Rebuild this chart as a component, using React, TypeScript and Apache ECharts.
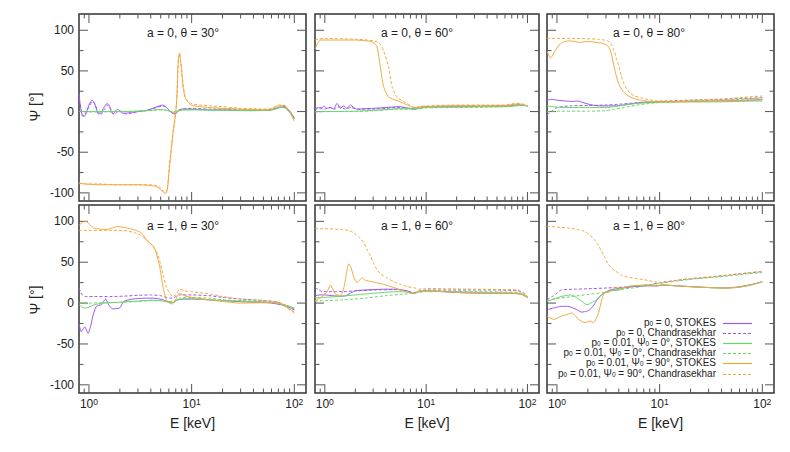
import React, { useEffect, useRef } from "react";
import * as echarts from "echarts";

// ---------- axis values ----------
const X_MIN = 0.8;
const X_MAX = 130;
const Y_MIN = -110;
const Y_MAX = 120;
const X_MAJOR = [1, 10, 100];
const X_MINOR = [0.9, 2, 3, 4, 5, 6, 7, 8, 9, 20, 30, 40, 50, 60, 70, 80, 90];
const Y_MAJOR = [-100, -50, 0, 50, 100];
const Y_MINOR = [-75, -25, 25, 75];

const PANEL_TITLES = [
  "a = 0, θ = 30°",
  "a = 0, θ = 60°",
  "a = 0, θ = 80°",
  "a = 1, θ = 30°",
  "a = 1, θ = 60°",
  "a = 1, θ = 80°",
];

const SERIES_NAMES = [
  "p0 = 0, STOKES",
  "p0 = 0, Chandrasekhar",
  "p0 = 0.01, Ψ0 = 0°, STOKES",
  "p0 = 0.01, Ψ0 = 0°, Chandrasekhar",
  "p0 = 0.01, Ψ0 = 90°, STOKES",
  "p0 = 0.01, Ψ0 = 90°, Chandrasekhar",
];
const LEGEND_RICH = [
  "{n|p}{s|0}{n| = 0, STOKES}",
  "{n|p}{s|0}{n| = 0, Chandrasekhar}",
  "{n|p}{s|0}{n| = 0.01, Ψ}{s|0}{n| = 0°, STOKES}",
  "{n|p}{s|0}{n| = 0.01, Ψ}{s|0}{n| = 0°, Chandrasekhar}",
  "{n|p}{s|0}{n| = 0.01, Ψ}{s|0}{n| = 90°, STOKES}",
  "{n|p}{s|0}{n| = 0.01, Ψ}{s|0}{n| = 90°, Chandrasekhar}",
];

// ---------- data: [E keV, Psi deg] ----------
// a = 0, theta = 30
const A0T30_PS = [[0.8,22],[0.82,10],[0.86,-5],[0.9,-6],[0.95,0],[1.0,8],[1.07,14],[1.12,12],[1.18,3],[1.24,-3],[1.3,-2],[1.4,5],[1.5,10],[1.57,8],[1.65,0],[1.72,-3],[1.8,0],[1.9,3],[2.0,1],[2.1,-2],[2.3,-2],[2.6,-1],[3.0,0],[3.5,1],[4.0,3],[4.6,6],[5.2,8],[5.6,6],[6.0,2],[6.5,-2],[6.9,-3],[7.3,1],[8,3],[10,3],[15,2],[20,2],[30,1.5],[50,1.5],[60,2],[70,5],[80,6],[90,1],[100,-8]];
const A0T30_PC = [[0.8,15],[0.84,2],[0.88,-5],[0.93,-3],[1.0,6],[1.08,12],[1.15,9],[1.22,0],[1.3,-4],[1.42,3],[1.52,8],[1.6,5],[1.7,-2],[1.8,-3],[1.95,1],[2.1,0],[2.3,-3],[2.6,-2],[3.0,0],[3.5,1],[4.0,3],[4.6,5],[5.2,7],[5.7,5],[6.2,0],[6.7,-3],[7.1,-2],[7.6,2],[8,3],[10,4],[15,3],[20,3],[30,2],[50,2],[60,2],[70,5],[80,6],[90,0],[100,-9]];
const A0T30_GS = [[0.8,0],[1,0],[2,0],[3,0.5],[4,1.5],[4.8,2.5],[5.5,2],[6.2,0],[6.8,-1],[7.5,1],[8.5,2],[10,2],[20,1.5],[40,1],[55,1.5],[65,3],[75,5],[82,4],[90,-1],[100,-7]];
const A0T30_GC = [[0.8,0],[1,-0.5],[2,0],[3,0.5],[4,1.5],[5,2],[5.8,1.5],[6.5,-0.5],[7.2,0],[8,2],[10,2.5],[20,2],[40,1.5],[55,2],[65,3.5],[75,5.5],[82,4.5],[90,-1],[100,-8]];
const A0T30_OS = [[0.8,-88],[0.9,-89],[1.2,-90],[2,-90],[3,-90],[4,-91],[4.5,-92],[5.0,-96],[5.3,-99],[5.55,-101],[5.8,-96],[6.1,-67],[6.4,-42],[6.6,-26],[7.0,-2],[7.2,20],[7.36,55],[7.5,68],[7.64,72],[7.8,62],[7.94,55],[8.23,31],[8.6,18],[8.9,14],[9.9,8],[12,6],[15,5],[20,4],[30,3],[40,2.5],[50,2],[60,3],[70,7],[80,7.5],[88,2],[100,-12]];
const A0T30_OC = [[0.8,-88],[0.9,-89],[1.2,-89],[2,-90],[3,-90],[4,-90],[4.5,-91],[5.0,-94],[5.3,-98],[5.55,-100],[5.8,-95],[6.1,-64],[6.4,-40],[6.6,-24],[7.0,0],[7.2,22],[7.36,56],[7.5,69],[7.64,71],[7.8,64],[8.0,52],[8.23,34],[8.6,20],[8.9,15],[9.9,10],[12,8],[15,7],[20,6],[30,4],[40,3.5],[50,3],[60,4],[70,8],[80,8],[88,2],[100,-11]];
// a = 0, theta = 60
const A0T60_PS = [[0.8,3],[0.86,5],[0.92,3],[0.98,7],[1.05,4],[1.14,5],[1.22,3],[1.32,10],[1.42,4],[1.54,7],[1.65,4],[1.79,8],[1.93,5],[2.08,3],[2.5,3.5],[3,4],[4,5],[5.5,6],[6.5,4.5],[7.8,3],[8.5,5],[10,6],[20,6.5],[40,6.5],[60,7],[80,8],[90,8],[100,7]];
const A0T60_PC = [[0.8,2],[0.9,5],[1.0,3],[1.1,5],[1.25,3],[1.4,6],[1.6,3],[1.8,5],[2.1,3],[3,3],[4,4],[5.5,5],[6.5,4],[7.8,3],[8.5,5],[10,6],[20,6.5],[40,7],[60,7.5],[80,8.5],[90,8],[100,7]];
const A0T60_GS = [[0.8,0],[1,0],[2,0.5],[3,1.5],[4,2.5],[5.5,3.5],[7.8,3.5],[10,5],[20,5.5],[40,6],[60,6],[80,7.5],[90,8],[100,7]];
const A0T60_GC = [[0.8,-0.5],[1,0],[2,0],[3,1],[4,2],[5.5,3],[7.8,3],[10,4.5],[20,5],[40,5.5],[60,6],[80,7],[90,7.5],[100,6.5]];
const A0T60_OS = [[0.8,77],[0.86,85],[0.91,88],[1.2,88],[2,88],[2.6,87],[3.0,85],[3.27,80],[3.53,55],[3.8,31],[4.26,18],[5.55,12],[6.5,8],[7.5,5],[8,5],[10,6],[20,7],[40,7],[60,7],[75,9],[85,9],[100,7]];
const A0T60_OC = [[0.8,88],[0.86,89],[1,90],[2,89],[2.6,88],[3.27,86],[3.53,83],[3.8,75],[4.26,55],[4.6,31],[5.15,18],[6.46,10],[7.8,5],[8.5,6],[10,7],[20,8],[40,8],[60,8],[75,10],[85,10],[100,7]];
// a = 0, theta = 80
const A0T80_PS = [[0.8,14],[0.88,15],[1.0,14],[1.2,13],[1.4,12.5],[1.6,13],[1.8,11],[2.2,8],[2.6,7],[3.2,7],[3.8,7],[5,9],[6.5,11],[10,12],[20,12.5],[40,13],[60,13.5],[80,14],[100,14.5]];
const A0T80_PC = [[0.8,-4],[0.88,0],[0.97,4],[1.1,6],[1.36,7],[2,7.5],[3,8],[4,9],[5,10],[7,11.5],[10,12.5],[20,14],[40,15],[60,16],[80,16.5],[100,17]];
const A0T80_GS = [[0.8,7],[0.9,6],[1.18,5],[2,5],[3,5],[3.6,6],[4.5,8],[6,10],[8,11],[10,11.5],[20,12],[40,12],[60,12.5],[80,13],[100,13]];
const A0T80_GC = [[0.8,0],[1,0.5],[2,0.5],[3,1],[3.5,2.5],[4.5,5],[6,8],[8,10],[10,11],[20,13],[40,14],[60,15],[80,16],[100,16.5]];
const A0T80_OS = [[0.8,74],[0.87,66],[0.95,74],[1.05,82],[1.18,86],[1.36,87],[1.5,86],[1.7,85],[1.9,86],[2.1,86],[2.4,85],[2.78,84],[3.0,82],[3.22,79],[3.4,70],[3.6,55],[3.8,43],[4.03,33],[4.4,25],[4.86,20],[5.6,16],[6.5,14],[8,12.5],[9.5,12],[20,12],[40,12.5],[60,13.5],[80,14.5],[100,15]];
const A0T80_OC = [[0.8,90],[1.5,90],[2.5,89],[2.88,88],[3.1,87],[3.35,84],[3.6,75],[3.8,65],[4.03,55],[4.25,43],[4.5,34],[4.85,27],[5.23,22],[5.8,19],[6.5,17],[8,14.5],[9.5,13],[15,13],[20,14],[40,15.5],[60,17],[80,18.5],[100,19]];
// a = 1, theta = 30
const A1T30_PS = [[0.8,-25],[0.84,-35],[0.91,-29],[0.98,-37],[1.04,-28],[1.09,-16],[1.18,-4],[1.32,-2],[1.45,5],[1.59,-4],[1.71,-7],[1.99,-6],[2.18,2],[2.68,5],[3.5,6],[4.3,6],[5.3,4],[6.1,1],[6.6,1],[7.3,4],[8.5,5],[10,5],[20,3],[40,1],[60,0],[80,-3],[100,-8]];
const A1T30_PC = [[0.8,18],[0.86,10],[0.92,8],[1.2,8],[1.6,8],[2.2,8.5],[3,9.5],[4,10],[5,9],[6.1,6],[6.8,7],[7.6,10],[10,10],[15,9],[20,7],[30,5],[50,3],[70,1],[80,-2],[100,-8]];
const A1T30_GS = [[0.8,-2],[0.86,-5],[0.93,-6],[1.0,-5],[1.13,-2],[1.4,0],[2,1],[3,2.5],[4,3.5],[5,3],[6,1],[6.6,0.5],[7.3,4],[8.5,5],[10,5],[20,3],[40,2],[60,1],[70,0],[80,-2],[100,-6]];
const A1T30_GC = [[0.8,0],[1,0],[1.5,0.5],[2,1],[3,2],[4,3],[5,3],[6,2],[6.8,3],[7.6,6],[10,7],[15,6],[20,4],[40,2.5],[60,1.5],[70,0.5],[80,-2],[100,-7]];
const A1T30_OS = [[0.8,95],[0.87,99],[0.94,100],[1.02,96],[1.1,92],[1.18,91],[1.48,90],[1.7,92],[1.85,93.5],[2.1,93],[2.31,92],[2.7,90],[3.12,87],[3.4,83],[3.62,77],[4.2,70],[4.53,61],[4.88,45],[5.26,20],[5.67,4],[6.1,0],[6.5,-1],[7.0,4],[7.3,9],[7.64,12],[8.5,9],[10,7],[15,4],[20,2],[30,0],[50,0.5],[60,1],[70,0],[80,-3],[100,-11]];
const A1T30_OC = [[0.8,89],[1,89],[1.5,89],[2.14,89],[2.8,86],[3.2,83],[3.62,78],[4.2,70],[4.53,64],[4.88,52],[5.26,35],[5.67,20],[6.1,12],[6.58,8],[7.1,11],[7.64,17],[8.5,15],[10,14],[15,11],[20,8],[30,5],[40,4],[60,2.5],[70,1],[80,-4],[100,-12]];
// a = 1, theta = 60
const A1T60_PS = [[0.8,9],[0.9,10],[1.0,10],[1.2,9],[1.4,8.5],[1.6,9],[2,15],[2.5,16],[3,16.5],[4,17],[5,17],[6.5,15],[7.5,12],[8.5,14],[10,15],[20,13],[40,12],[60,12],[80,11.5],[90,10],[100,7]];
const A1T60_PC = [[0.8,19],[0.88,16],[0.95,14],[1.2,14],[1.5,14],[2,15],[3,16],[5,16.5],[6.5,15],[7.5,12.5],[8.5,15],[10,16],[20,16],[50,16],[80,15],[90,13],[100,8]];
const A1T60_GS = [[0.8,6.5],[1.0,7],[1.5,8.5],[2,10],[3,12],[5,14],[6.5,13.5],[7.5,12],[8.5,14],[10,15],[20,14],[30,13],[60,12.5],[80,12],[90,10.5],[100,7]];
const A1T60_GC = [[0.8,2.5],[1.0,3],[1.5,4],[2.5,6],[4,9],[6,11],[7.5,12],[10,14],[20,14],[30,14],[60,13.5],[80,13],[90,11.5],[100,8]];
const A1T60_OS = [[0.8,3],[0.94,8],[1.05,14],[1.14,22],[1.2,17],[1.27,11],[1.43,9],[1.55,20],[1.64,38],[1.72,48],[1.8,45],[1.93,32],[2.08,25],[2.2,28],[2.33,31],[2.5,28],[2.71,27],[3.2,25],[3.8,23],[4.8,19],[5.98,15],[6.8,13],[7.5,11.5],[8.3,14],[9.4,15],[15,14],[20,13],[40,12],[60,12],[80,11.5],[90,10],[100,6.5]];
const A1T60_OC = [[0.8,91],[1.0,91],[1.43,90],[1.7,89],[1.93,86],[2.2,80],[2.42,74],[2.6,66],[2.81,58],[3.0,50],[3.27,41],[3.6,35],[4.1,31],[4.8,26],[5.55,23],[6.5,20],[7.5,19],[8.5,17],[9.4,18],[15,17.5],[30,17],[60,16.5],[80,16],[90,13],[100,8]];
// a = 1, theta = 80
const A1T80_PS = [[0.8,-8],[0.93,-6],[1.1,-4],[1.27,-4],[1.5,-7],[1.75,-11],[1.95,-10],[2.1,-8],[2.3,-2],[2.45,4],[2.6,8],[2.84,12],[3.3,16],[4.1,18],[5.5,20],[7.5,21],[9.5,21],[10.5,22],[15,21],[21.5,20],[30,19],[45,18.5],[60,20],[80,23],[100,26]];
const A1T80_PC = [[0.8,4],[0.9,8],[1.0,12],[1.1,16],[1.5,17],[2,17.5],[3.1,18.5],[5,20],[8,22.5],[10,25],[15,28],[21.5,30],[30,31.5],[50,34.5],[70,36.5],[100,38.5]];
const A1T80_GS = [[0.8,2],[0.93,5],[1.1,8],[1.35,10],[1.5,8],[1.75,2],[1.96,-2],[2.2,1],[2.45,4],[2.84,12],[3.3,15],[4.1,16],[4.78,20],[5.5,21],[7.5,22],[9.5,21.5],[10.5,22],[15,21],[21.5,19.8],[30,19],[45,18.4],[60,19.5],[80,22.5],[100,26]];
const A1T80_GC = [[0.8,3],[1.0,5.5],[1.5,8.5],[2,10.5],[2.84,13],[3.5,15.5],[4.5,17.5],[5.5,18.5],[7,20.5],[8,22],[10,24],[15,27],[21.5,29.5],[30,31],[50,33.5],[70,35.5],[100,37.5]];
const A1T80_OS = [[0.8,-16],[0.93,-20],[1.1,-16],[1.25,-14],[1.4,-12],[1.62,-20],[1.88,-24],[2.11,-22],[2.27,-24],[2.54,-12],[2.73,4],[2.88,12],[3.3,14],[3.68,19.6],[4.12,18],[4.78,20],[5.5,21],[7.5,22],[9.5,21],[10.5,22.5],[15,21],[21.5,19.8],[30,19],[45,18.4],[60,19.5],[80,22.5],[100,26]];
const A1T80_OC = [[0.8,94],[1.0,93],[1.27,92],[1.6,90],[1.84,88],[2.05,84],[2.3,78],[2.5,72],[2.67,65],[2.9,57],[3.1,49],[3.4,43],[3.74,39],[4.3,34],[4.85,32],[5.9,30],[7.05,28.6],[8.5,26.5],[10.2,25],[15,28],[21.5,30.6],[30,32],[50,35],[70,37],[100,39]];

const PANEL_DATA = [
  [A0T30_PS, A0T30_PC, A0T30_GS, A0T30_GC, A0T30_OS, A0T30_OC],
  [A0T60_PS, A0T60_PC, A0T60_GS, A0T60_GC, A0T60_OS, A0T60_OC],
  [A0T80_PS, A0T80_PC, A0T80_GS, A0T80_GC, A0T80_OS, A0T80_OC],
  [A1T30_PS, A1T30_PC, A1T30_GS, A1T30_GC, A1T30_OS, A1T30_OC],
  [A1T60_PS, A1T60_PC, A1T60_GS, A1T60_GC, A1T60_OS, A1T60_OC],
  [A1T80_PS, A1T80_PC, A1T80_GS, A1T80_GC, A1T80_OS, A1T80_OC],
];

// ---------- styles / layout ----------
const FONT = "'Liberation Sans', Arial, Helvetica, sans-serif";
const PURPLE = "#9a58ee";
const GREEN = "#6ad66a";
const ORANGE = "#f3a83f";
const SERIES_COLORS = [PURPLE, PURPLE, GREEN, GREEN, ORANGE, ORANGE];
const SERIES_DASHED = [false, true, false, true, false, true];
const TEXT = "#222";
const BORDER = "#333";
const TICK = "#555";

const COL_LEFT = [79, 315, 547];
const COL_WIDTH = [227, 224, 227];
const ROW_TOP = [14, 205];
const ROW_HEIGHT = [187, 188];
const TITLE_X = [183, 417, 649];
const TITLE_Y = [33, 226];

function buildOption() {
  const grid: any[] = [];
  const xAxis: any[] = [];
  const yAxis: any[] = [];
  const series: any[] = [];
  const graphic: any[] = [];

  const tickData: number[][] = [
    ...X_MAJOR.map((v) => [v, 0, 0]),
    ...X_MINOR.map((v) => [v, 0, 1]),
    ...Y_MAJOR.map((v) => [1, v, 2]),
    ...Y_MINOR.map((v) => [1, v, 3]),
  ];

  for (let i = 0; i < 6; i++) {
    const row = Math.floor(i / 3);
    const col = i % 3;
    grid.push({
      left: COL_LEFT[col],
      top: ROW_TOP[row],
      width: COL_WIDTH[col],
      height: ROW_HEIGHT[row],
      show: true,
      borderColor: BORDER,
      borderWidth: 1.5,
      backgroundColor: "#fff",
    });
    xAxis.push({
      type: "log",
      logBase: 10,
      gridIndex: i,
      min: X_MIN,
      max: X_MAX,
      axisLine: { show: false },
      axisTick: { show: false },
      splitLine: { show: false },
      axisLabel: {
        show: row === 1,
        margin: 4,
        color: TEXT,
        fontFamily: FONT,
        fontSize: 12,
        formatter: (v: number) => {
          const e = Math.log10(v);
          if (Math.abs(e - Math.round(e)) > 1e-6) return "";
          return "{b|10}{s|" + Math.round(e) + "}";
        },
        rich: {
          b: { fontSize: 12, fontFamily: FONT, color: TEXT, lineHeight: 14 },
          s: { fontSize: 8.5, fontFamily: FONT, color: TEXT, verticalAlign: "top", lineHeight: 6 },
        },
      },
    });
    yAxis.push({
      type: "value",
      gridIndex: i,
      min: Y_MIN,
      max: Y_MAX,
      axisLine: { show: false },
      axisTick: { show: false },
      splitLine: { show: false },
      axisLabel: {
        show: col === 0,
        margin: 5,
        color: TEXT,
        fontFamily: FONT,
        fontSize: 12,
        formatter: (v: number) => (Math.abs(v % 50) < 1e-9 ? String(v) : ""),
      },
    });

    // tick marks on all four sides through the axes' own scales
    series.push({
      type: "custom",
      xAxisIndex: i,
      yAxisIndex: i,
      silent: true,
      clip: false,
      z: 1,
      encode: { x: 0, y: 1 },
      data: tickData,
      renderItem: (params: any, api: any) => {
        const cs = params.coordSys;
        const kind = api.value(2);
        const st = { stroke: TICK, lineWidth: 1 };
        if (kind < 2) {
          const px = api.coord([api.value(0), 0])[0];
          const len = kind === 0 ? 9 : 4.5;
          const yb = cs.y + cs.height;
          return {
            type: "group",
            children: [
              { type: "line", shape: { x1: px, y1: yb, x2: px, y2: yb - len }, style: st },
              { type: "line", shape: { x1: px, y1: cs.y, x2: px, y2: cs.y + len }, style: st },
            ],
          };
        }
        const py = api.coord([1, api.value(1)])[1];
        const len = kind === 2 ? 9 : 4.5;
        const xr = cs.x + cs.width;
        return {
          type: "group",
          children: [
            { type: "line", shape: { x1: cs.x, y1: py, x2: cs.x + len, y2: py }, style: st },
            { type: "line", shape: { x1: xr, y1: py, x2: xr - len, y2: py }, style: st },
          ],
        };
      },
    });

    PANEL_DATA[i].forEach((d, k) => {
      series.push({
        type: "line",
        name: SERIES_NAMES[k],
        xAxisIndex: i,
        yAxisIndex: i,
        data: d,
        showSymbol: false,
        symbol: "none",
        smooth: 0.2,
        z: 3,
        clip: true,
        emphasis: { disabled: true },
        lineStyle: {
          color: SERIES_COLORS[k],
          width: 1,
          type: SERIES_DASHED[k] ? [3, 2] : "solid",
        },
      });
    });

    graphic.push({
      type: "text",
      x: TITLE_X[col],
      y: TITLE_Y[row],
      style: {
        text: PANEL_TITLES[i],
        align: "center",
        verticalAlign: "middle",
        fontSize: 12,
        fontFamily: FONT,
        fill: TEXT,
      },
    });
  }

  // axis names
  [107, 300].forEach((y) => {
    graphic.push({
      type: "text",
      x: 35,
      y,
      rotation: Math.PI / 2,
      style: {
        text: "Ψ [°]",
        align: "center",
        verticalAlign: "middle",
        fontSize: 14,
        fontFamily: FONT,
        fill: TEXT,
      },
    });
  });
  [0, 1, 2].forEach((c) => {
    graphic.push({
      type: "text",
      x: COL_LEFT[c] + COL_WIDTH[c] / 2,
      y: 423,
      style: {
        text: "E [keV]",
        align: "center",
        verticalAlign: "middle",
        fontSize: 14,
        fontFamily: FONT,
        fill: TEXT,
      },
    });
  });

  // legend (inside bottom-right panel)
  LEGEND_RICH.forEach((t, k) => {
    const y = Math.round(323 + 10.1 * k) + 0.5;
    graphic.push({
      type: "text",
      x: 716,
      y: y - 1,
      z: 10,
      style: {
        text: t,
        align: "right",
        verticalAlign: "middle",
        fontFamily: FONT,
        rich: {
          n: { fontSize: 10, fontFamily: FONT, fill: TEXT, lineHeight: 9 },
          s: { fontSize: 6.5, fontFamily: FONT, fill: TEXT, verticalAlign: "bottom", lineHeight: 6 },
        },
      },
    });
    const lineStyle: any = { stroke: SERIES_COLORS[k], lineWidth: 1.2 };
    if (SERIES_DASHED[k]) lineStyle.lineDash = [3, 2];
    graphic.push({
      type: "line",
      z: 10,
      shape: { x1: 723, y1: y, x2: 752, y2: y },
      style: lineStyle,
    });
  });

  return {
    animation: false,
    backgroundColor: "#fff",
    grid,
    xAxis,
    yAxis,
    series,
    graphic,
  };
}

export default function App() {
  const ref = useRef<HTMLDivElement>(null);
  useEffect(() => {
    if (!ref.current) return;
    const chart = echarts.init(ref.current, undefined, { renderer: "svg" });
    chart.setOption(buildOption() as any);
    return () => chart.dispose();
  }, []);
  return (
    <div
      ref={ref}
      style={{ position: "absolute", left: 0, top: 0, width: 790, height: 452 }}
    />
  );
}
